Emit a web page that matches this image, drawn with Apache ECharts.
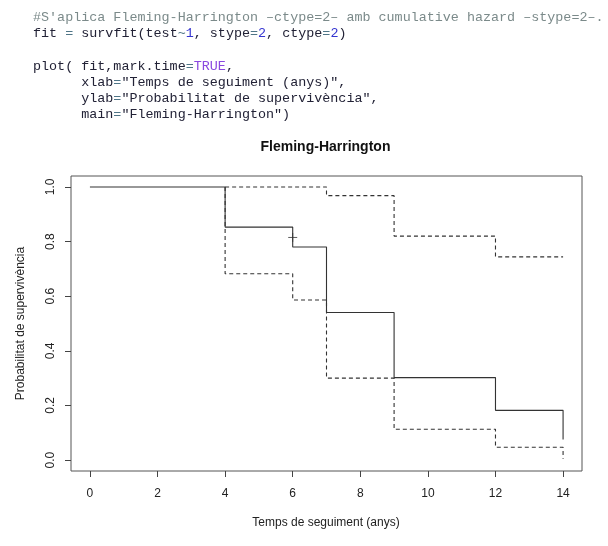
<!DOCTYPE html>
<html>
<head>
<meta charset="utf-8">
<script src="https://cdn.jsdelivr.net/npm/echarts@6/dist/echarts.min.js"></script>
<style>
  html, body { margin:0; padding:0; width:608px; height:546px; overflow:hidden; background:#fff; }
  #code { position:absolute; left:33px; top:10px; margin:0; font-family:"Liberation Mono","DejaVu Sans Mono",monospace;
          font-size:13.4px; line-height:16.2px; color:#222236; white-space:pre; z-index:2; }
  .cm { color:#7b8a8a; } .nu { color:#3434d0; } .kw { color:#8a48e0; } .op { color:#4f7587; }
  #chart { position:absolute; left:0; top:0; width:608px; height:546px; }
</style>
</head>
<body>
<pre id="code"><span class="cm">#S'aplica Fleming-Harrington –ctype=2– amb cumulative hazard –stype=2–.</span>
fit <span class="op">=</span> survfit(test<span class="op">~</span><span class="nu">1</span>, stype<span class="op">=</span><span class="nu">2</span>, ctype<span class="op">=</span><span class="nu">2</span>)

plot( fit,mark.time<span class="op">=</span><span class="kw">TRUE</span>,
      xlab<span class="op">=</span>"Temps de seguiment (anys)",
      ylab<span class="op">=</span>"Probabilitat de supervivència",
      main<span class="op">=</span>"Fleming-Harrington")</pre>
<div id="chart"></div>
<script>
// ---- data ----
const chartTitle = "Fleming-Harrington";
const xLabel = "Temps de seguiment (anys)";
const yLabel = "Probabilitat de supervivència";
const xTicks = [0, 2, 4, 6, 8, 10, 12, 14];
const yTicks = [0, 0.2, 0.4, 0.6, 0.8, 1.0];
// survival estimate (step points: time, survival)
const survTimes  = [0, 4, 6, 7, 9, 12, 14];
const survValues = [1.0, 0.853, 0.780, 0.540, 0.302, 0.182, 0.075];
// upper confidence limit
const upperTimes  = [4, 7, 9, 12, 14];
const upperValues = [1.0, 0.968, 0.820, 0.744, 0.744];
// lower confidence limit
const lowerTimes  = [4, 4, 6, 7, 9, 12, 14];
const lowerValues = [1.0, 0.682, 0.586, 0.300, 0.113, 0.047, 0.005];
// censored observation mark
const censorTimes  = [6];
const censorValues = [0.815];

const zip = (a, b) => a.map((v, i) => [v, b[i]]);

const chart = echarts.init(document.getElementById('chart'), null, { renderer: 'canvas' });
const FONT = '"Liberation Sans", Arial, sans-serif';
const ink = '#333333';

// R-style 4% axis extension
const xMin = xTicks[0], xMax = xTicks[xTicks.length - 1];
const yMin = yTicks[0], yMax = yTicks[yTicks.length - 1];
const xPad = (xMax - xMin) * 0.04, yPad = (yMax - yMin) * 0.04;

const option = {
  animation: false,
  backgroundColor: 'transparent',
  grid: { left: 71, right: 26, top: 176, bottom: 75, show: true, borderColor: '#555', borderWidth: 1, backgroundColor: 'transparent' },
  xAxis: {
    type: 'value', min: xMin - xPad, max: xMax + xPad,
    axisLine: { show: false, onZero: false },
    axisTick: { show: true, length: 6, customValues: xTicks, lineStyle: { color: '#444', width: 1 } },
    axisLabel: { margin: 17, customValues: xTicks, fontFamily: FONT, fontSize: 12, color: '#222' },
    splitLine: { show: false }
  },
  yAxis: {
    type: 'value', min: yMin - yPad, max: yMax + yPad,
    axisLine: { show: false, onZero: false },
    axisTick: { show: true, length: 6, customValues: yTicks, lineStyle: { color: '#444', width: 1 } },
    axisLabel: { margin: 14, rotate: 90, customValues: yTicks, fontFamily: FONT, fontSize: 12, color: '#222',
                 formatter: v => v.toFixed(1) },
    splitLine: { show: false }
  },
  graphic: [
    { type: 'text', x: 325.5, y: 147.5, style: { text: chartTitle, font: 'bold 14px ' + FONT, fill: '#111', align: 'center', verticalAlign: 'middle' } },
    { type: 'text', x: 326, y: 522.5, style: { text: xLabel, font: '12px ' + FONT, fill: '#222', align: 'center', verticalAlign: 'middle' } },
    { type: 'text', x: 20.5, y: 323.5, rotation: Math.PI / 2, style: { text: yLabel, font: '12px ' + FONT, fill: '#222', align: 'center', verticalAlign: 'middle' } }
  ],
  series: [
    { type: 'line', step: 'end', data: zip(survTimes, survValues),
      showSymbol: false, clip: false, lineStyle: { color: ink, width: 1.1 } },
    { type: 'line', step: 'end', data: zip(upperTimes, upperValues),
      showSymbol: false, clip: false, lineStyle: { color: ink, width: 1.1, type: [4, 3] } },
    { type: 'line', step: 'end', data: zip(lowerTimes, lowerValues),
      showSymbol: false, clip: false, lineStyle: { color: ink, width: 1.1, type: [4, 3] } },
    { type: 'scatter', data: zip(censorTimes, censorValues), clip: false,
      symbol: 'path://M0,5L10,5M5,0L5,10', symbolSize: 9,
      itemStyle: { color: 'none', borderColor: ink, borderWidth: 1 } }
  ]
};
chart.setOption(option);
</script>
</body>
</html>
